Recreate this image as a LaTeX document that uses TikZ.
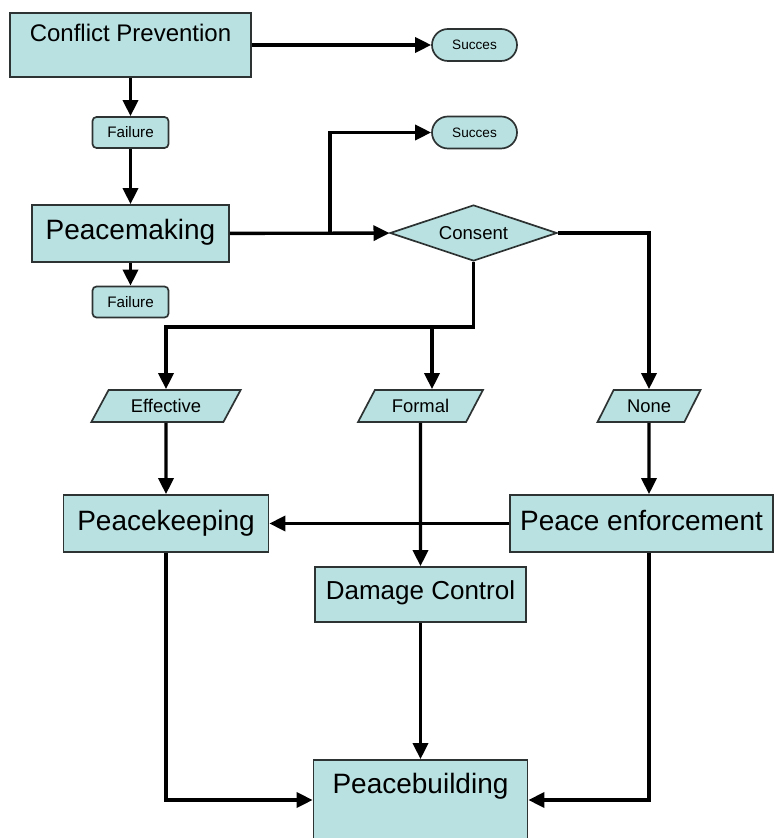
\documentclass[tikz,border=0pt]{standalone}
\usepackage{fontspec}
\setmainfont{Liberation Sans}
\usetikzlibrary{shapes.geometric,arrows.meta}
\definecolor{boxfill}{RGB}{185,225,225}
\definecolor{boxline}{RGB}{45,50,50}

\begin{document}
\begin{tikzpicture}[x=0.5pt,y=-0.5pt,
    box/.style={draw=boxline, fill=boxfill, line width=0.85pt, inner sep=0pt},
    stage/.style={box, rectangle},
    endbox/.style={box, rounded corners=8pt, minimum width=42.5pt, minimum height=16pt, font=\fontsize{6.8}{8}\selectfont},
    failbox/.style={box, rounded corners=2pt, minimum width=38pt, minimum height=15.5pt, font=\fontsize{7.6}{9}\selectfont},
    choice/.style={box, diamond, aspect=3, minimum width=83.5pt, minimum height=28pt, font=\fontsize{9.3}{10}\selectfont},
    level/.style={box, trapezium, trapezium left angle=52, trapezium right angle=128, trapezium stretches=true, minimum height=16pt, font=\fontsize{9.2}{10}\selectfont},
    arr/.style={line width=1.7pt, -{Triangle[length=8pt,width=7.5pt]}}]
    \useasboundingbox (0,0) rectangle (775,838);
    \clip (0,0) rectangle (775,838);

    % Draw the stages
    \node[stage, minimum width=120.5pt, text height=14.3pt, text depth=17.7pt, font=\fontsize{12}{14}\selectfont] (cp) at (130.5,45) {Conflict Prevention};
    \node[stage, minimum width=98.5pt, text height=17.5pt, text depth=11pt, font=\fontsize{14}{16}\selectfont] (pm) at (130.5,233.5) {Peacemaking};
    \node[stage, minimum width=102.5pt, text height=17.5pt, text depth=11pt, font=\fontsize{14}{16}\selectfont] (pk) at (166,523.5) {Peacekeeping};
    \node[stage, minimum width=131.5pt, text height=17.5pt, text depth=11pt, font=\fontsize{14}{16}\selectfont] (pe) at (641.5,523.5) {Peace enforcement};
    \node[stage, minimum width=105.5pt, text height=16.2pt, text depth=11.3pt, font=\fontsize{13}{15}\selectfont] (dc) at (420.5,594.5) {Damage Control};
    \node[stage, minimum width=107pt, text height=16.5pt, text depth=23.5pt, font=\fontsize{14}{16}\selectfont] (pb) at (420.5,800) {Peacebuilding};

    % Draw the outcomes
    \node[endbox] (succ1) at (474.5,45) {Succes};
    \node[endbox] (succ2) at (474.5,132.5) {Succes};
    \node[failbox] (fail1) at (130.5,132.5) {Failure};
    \node[failbox] (fail2) at (130.5,302) {Failure};

    % Draw the consent levels
    \node[choice] (consent) at (473.5,233) {Consent};
    \node[level, minimum width=75pt] (effective) at (166,406) {Effective};
    \node[level, minimum width=62.5pt] (formal) at (420.5,406) {Formal};
    \node[level, minimum width=51.5pt] (none) at (649,406) {None};

    \coordinate (msplit) at (330,233.5);
    \coordinate (fsplit) at (432,326);

    % Draw arrows
    \draw[arr] (cp) -- (succ1);
    \draw[arr] (cp) -- (fail1);
    \draw[arr] (fail1) -- (pm);
    \draw[arr] (pm) -- (fail2);
    \draw[arr] (pm) -- (consent);
    \draw[arr] (msplit) |- (succ2);
    \draw[arr] (consent.south) -- ++(0,65) -| (effective.north);
    \draw[arr] (fsplit) -- (fsplit |- formal.north);
    \draw[arr] (consent.east) -| (none.north);
    \draw[arr] (effective) -- (pk);
    \draw[arr] (formal) -- (dc);
    \draw[arr] (none) -- (none |- pe.north);
    \draw[arr] (pe) -- (pk);
    \draw[arr] (pk.south) |- (pb.west);
    \draw[arr] (dc) -- (pb);
    \draw[arr] (none |- pe.south) |- (pb.east);
\end{tikzpicture}
\end{document}
